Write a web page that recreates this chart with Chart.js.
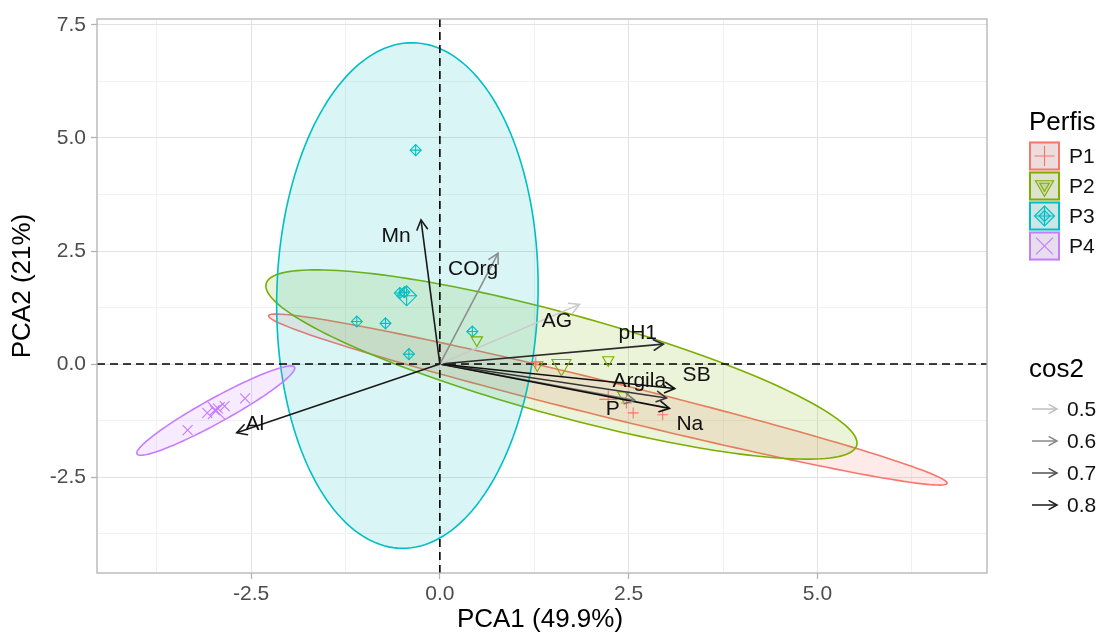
<!DOCTYPE html>
<html><head><meta charset="utf-8">
<script src="https://cdn.jsdelivr.net/npm/chart.js@4.4.1/dist/chart.umd.min.js"></script>
<style>html,body{margin:0;padding:0;background:#fff;} #wrap{width:1110px;height:636px;position:relative;}</style>
</head><body><div id="wrap"><canvas id="c" width="1110" height="636"></canvas></div>
<script>
// ---------- data ----------
const groupNames = ['P1', 'P2', 'P3', 'P4'];
const groupColors = ['#F8766D', '#7CAE00', '#00BFC4', '#C77CFF'];
const p1X = [1.27, 2.47, 2.56, 2.95];
const p1Y = [0.03, -0.86, -1.08, -1.12];
const p2X = [0.49, 1.29, 2.23, 2.43];
const p2Y = [0.53, -0.02, 0.09, -0.69];
const p3X = [-0.32, -1.10, -0.72, 0.43, -0.41, -0.53, -0.47];
const p3Y = [4.73, 0.94, 0.90, 0.72, 0.22, 1.57, 1.59];
const p4X = [-3.34, -3.08, -2.98, -2.94, -2.85, -2.58];
const p4Y = [-1.46, -1.08, -1.02, -0.98, -0.93, -0.76];
const centroidX = [2.23, 1.61, -0.44, -2.96];
const centroidY = [-0.78, -0.02, 1.51, -1.03];
const ellipseCx = [2.225, 1.61, -0.43, -2.967];
const ellipseCy = [-0.785, -0.01, 1.515, -1.029];
const ellipseA = [4.86, 4.31, 5.59, 1.42];
const ellipseB = [0.37, 1.06, 1.73, 0.228];
const ellipseAngle = [-22.5, -25.6, 89.3, 43.3];
const varNames = ['Mn', 'COrg', 'AG', 'pH1', 'SB', 'Argila', 'Na', 'P', 'Al'];
const varX = [-0.25, 0.77, 1.85, 2.96, 3.11, 3.00, 3.04, 2.58, -2.69];
const varY = [3.19, 2.45, 1.32, 0.44, -0.54, -0.75, -0.98, -0.80, -1.52];
const varCos2 = [0.80, 0.59, 0.48, 0.77, 0.82, 0.75, 0.82, 0.63, 0.80];
const varLabelX = [-0.58, 0.44, 1.55, 2.62, 3.40, 2.64, 3.31, 2.29, -2.45];
const varLabelY = [2.83, 2.10, 0.95, 0.69, -0.24, -0.38, -1.33, -1.00, -1.33];
const xTicks = [-2.5, 0, 2.5, 5];
const xTickLabels = ['-2.5', '0.0', '2.5', '5.0'];
const yTicks = [-2.5, 0, 2.5, 5, 7.5];
const yTickLabels = ['-2.5', '0.0', '2.5', '5.0', '7.5'];
const xMinor = [-3.75, -1.25, 1.25, 3.75, 6.25];
const yMinor = [-3.75, -1.25, 1.25, 3.75, 6.25];
const cos2Breaks = [0.5, 0.6, 0.7, 0.8];
const xTitle = 'PCA1 (49.9%)';
const yTitle = 'PCA2 (21%)';
const legendTitle1 = 'Perfis';
const legendTitle2 = 'cos2';

// ---------- styles ----------
const FONT = "'Liberation Sans', Arial, sans-serif";
function cos2Color(c) {
  const g = Math.max(0, Math.min(235, Math.round(191 - 550 * (c - 0.5))));
  return `rgb(${g},${g},${g})`;
}
function hexA(hex, a) {
  const n = parseInt(hex.slice(1), 16);
  return `rgba(${(n >> 16) & 255},${(n >> 8) & 255},${n & 255},${a})`;
}
const pts = (xs, ys) => xs.map((x, i) => ({ x, y: ys[i] }));

const datasets = [];
varNames.forEach((n, i) => {
  datasets.push({
    label: n, data: [{ x: 0, y: 0 }, { x: varX[i], y: varY[i] }],
    showLine: true, borderColor: cos2Color(varCos2[i]), borderWidth: 1.6,
    pointRadius: 0, pointHoverRadius: 0, order: 1
  });
});
function ptSet(label, data, style, r, color, extra) {
  return Object.assign({
    label, data, pointStyle: style, pointRadius: r, pointHoverRadius: r,
    borderColor: color, backgroundColor: 'rgba(0,0,0,0)', pointBorderWidth: 1.1,
    borderWidth: 1.1, showLine: false, order: 5
  }, extra || {});
}
datasets.push(ptSet('P1', pts(p1X, p1Y), 'cross', 5.5, groupColors[0]));
datasets.push(ptSet('P1c', [{ x: centroidX[0], y: centroidY[0] }], 'cross', 9, groupColors[0]));
datasets.push(ptSet('P2', pts(p2X, p2Y), 'triangle', 6.5, groupColors[1], { rotation: 180 }));
datasets.push(ptSet('P2c', [{ x: centroidX[1], y: centroidY[1] }], 'triangle', 11, groupColors[1], { rotation: 180 }));
datasets.push(ptSet('P3', pts(p3X, p3Y), 'rectRot', 5.5, groupColors[2]));
datasets.push(ptSet('P3x', pts(p3X, p3Y), 'cross', 5.5, groupColors[2]));
datasets.push(ptSet('P3c', [{ x: centroidX[2], y: centroidY[2] }], 'rectRot', 10, groupColors[2]));
datasets.push(ptSet('P3cx', [{ x: centroidX[2], y: centroidY[2] }], 'cross', 10, groupColors[2]));
datasets.push(ptSet('P4', pts(p4X, p4Y), 'crossRot', 7, groupColors[3]));
datasets.push(ptSet('P4c', [{ x: centroidX[3], y: centroidY[3] }], 'crossRot', 12, groupColors[3]));

function drawArrowHead(ctx, x0, y0, x1, y1, len, color, w) {
  const a = Math.atan2(y1 - y0, x1 - x0), s = 0.5;
  ctx.save();
  ctx.strokeStyle = color; ctx.lineWidth = w; ctx.lineCap = 'round';
  ctx.beginPath();
  ctx.moveTo(x1 - len * Math.cos(a - s), y1 - len * Math.sin(a - s));
  ctx.lineTo(x1, y1);
  ctx.lineTo(x1 - len * Math.cos(a + s), y1 - len * Math.sin(a + s));
  ctx.stroke();
  ctx.restore();
}

const plotPlugin = {
  id: 'plotExtras',
  beforeDatasetsDraw(chart) {
    const ctx = chart.ctx, ca = chart.chartArea, xs = chart.scales.x, ys = chart.scales.y;
    ctx.save();
    ctx.beginPath(); ctx.rect(ca.left, ca.top, ca.width, ca.height); ctx.clip();
    for (let g = 0; g < groupNames.length; g++) {
      const th = ellipseAngle[g] * Math.PI / 180;
      ctx.beginPath();
      for (let k = 0; k <= 180; k++) {
        const t = k / 180 * 2 * Math.PI;
        const u = ellipseA[g] * Math.cos(t), v = ellipseB[g] * Math.sin(t);
        const dx = ellipseCx[g] + u * Math.cos(th) - v * Math.sin(th);
        const dy = ellipseCy[g] + u * Math.sin(th) + v * Math.cos(th);
        const X = xs.getPixelForValue(dx), Y = ys.getPixelForValue(dy);
        if (k === 0) ctx.moveTo(X, Y); else ctx.lineTo(X, Y);
      }
      ctx.closePath();
      ctx.fillStyle = hexA(groupColors[g], 0.15);
      ctx.fill();
      ctx.strokeStyle = groupColors[g]; ctx.lineWidth = 1.6;
      ctx.stroke();
    }
    ctx.setLineDash([8, 5]);
    ctx.strokeStyle = '#000'; ctx.lineWidth = 1.6;
    const x0 = xs.getPixelForValue(0), y0 = ys.getPixelForValue(0);
    ctx.beginPath(); ctx.moveTo(x0, ca.top); ctx.lineTo(x0, ca.bottom); ctx.stroke();
    ctx.beginPath(); ctx.moveTo(ca.left, y0); ctx.lineTo(ca.right, y0); ctx.stroke();
    ctx.restore();
  },
  afterDatasetsDraw(chart) {
    const ctx = chart.ctx, ca = chart.chartArea, xs = chart.scales.x, ys = chart.scales.y;
    const ox = xs.getPixelForValue(0), oy = ys.getPixelForValue(0);
    varNames.forEach((n, i) => {
      drawArrowHead(ctx, ox, oy, xs.getPixelForValue(varX[i]), ys.getPixelForValue(varY[i]), 11, cos2Color(varCos2[i]), 1.6);
    });
    ctx.save();
    ctx.font = `21px ${FONT}`; ctx.fillStyle = '#111'; ctx.textAlign = 'center'; ctx.textBaseline = 'middle';
    varNames.forEach((n, i) => {
      ctx.fillText(n, xs.getPixelForValue(varLabelX[i]), ys.getPixelForValue(varLabelY[i]));
    });
    ctx.restore();
    ctx.save();
    ctx.strokeStyle = '#b3b3b3'; ctx.lineWidth = 1.3;
    ctx.strokeRect(ca.left, ca.top, ca.width, ca.height);
    ctx.restore();
  },
  afterDraw(chart) {
    const ctx = chart.ctx, ca = chart.chartArea;
    ctx.save();
    ctx.fillStyle = '#000'; ctx.font = `26px ${FONT}`; ctx.textAlign = 'center'; ctx.textBaseline = 'middle';
    ctx.fillText(xTitle, (ca.left + ca.right) / 2 - 2, 620);
    ctx.save(); ctx.translate(23, 286); ctx.rotate(-Math.PI / 2);
    ctx.fillText(yTitle, 0, 0); ctx.restore();
    const lx = 1029;
    ctx.textAlign = 'left';
    ctx.fillStyle = '#000'; ctx.font = `26px ${FONT}`;
    ctx.fillText(legendTitle1, lx, 123);
    ctx.font = `21px ${FONT}`;
    groupNames.forEach((g, i) => {
      const cyc = 156 + i * 30, h = 29, w = 31, top = cyc - h / 2;
      ctx.fillStyle = '#ebebeb'; ctx.fillRect(lx, top, w, h);
      ctx.fillStyle = hexA(groupColors[i], 0.12); ctx.fillRect(lx, top, w, h);
      ctx.strokeStyle = groupColors[i]; ctx.lineWidth = 2; ctx.strokeRect(lx + 1, top + 1, w - 2, h - 2);
      const cx = lx + w / 2, cy = cyc;
      ctx.lineWidth = 1.1;
      if (i === 0) Chart.helpers.drawPoint(ctx, { pointStyle: 'cross', radius: 10, borderWidth: 1.1, rotation: 0 }, cx, cy);
      if (i === 1) {
        Chart.helpers.drawPoint(ctx, { pointStyle: 'triangle', radius: 10.5, borderWidth: 1.1, rotation: 180 }, cx, cy);
        Chart.helpers.drawPoint(ctx, { pointStyle: 'triangle', radius: 5.5, borderWidth: 1.1, rotation: 180 }, cx, cy);
      }
      if (i === 2) {
        Chart.helpers.drawPoint(ctx, { pointStyle: 'rectRot', radius: 10, borderWidth: 1.1, rotation: 0 }, cx, cy);
        Chart.helpers.drawPoint(ctx, { pointStyle: 'rectRot', radius: 5.5, borderWidth: 1.1, rotation: 0 }, cx, cy);
        Chart.helpers.drawPoint(ctx, { pointStyle: 'cross', radius: 10, borderWidth: 1.1, rotation: 0 }, cx, cy);
      }
      if (i === 3) Chart.helpers.drawPoint(ctx, { pointStyle: 'crossRot', radius: 12, borderWidth: 1.1, rotation: 0 }, cx, cy);
      ctx.fillStyle = '#111';
      ctx.fillText(g, lx + 40, cy + 1);
    });
    ctx.fillStyle = '#000'; ctx.font = `26px ${FONT}`;
    ctx.fillText(legendTitle2, lx, 370);
    ctx.font = `21px ${FONT}`;
    cos2Breaks.forEach((b, i) => {
      const y = 409 + i * 32;
      const col = cos2Color(b);
      ctx.strokeStyle = col; ctx.lineWidth = 1.5;
      ctx.beginPath(); ctx.moveTo(lx + 3, y); ctx.lineTo(lx + 28, y); ctx.stroke();
      drawArrowHead(ctx, lx + 3, y, lx + 28, y, 9, col, 1.5);
      ctx.fillStyle = '#111';
      ctx.fillText(b.toFixed(1), lx + 38, y + 1);
    });
    ctx.restore();
  }
};

const allX = [...xMinor, ...xTicks].sort((a, b) => a - b);
const allY = [...yMinor, ...yTicks].sort((a, b) => a - b);
const isMajor = (arr, v) => arr.some(t => Math.abs(t - v) < 1e-9);

new Chart(document.getElementById('c'), {
  type: 'scatter',
  data: { datasets },
  options: {
    responsive: false, animation: false, events: [],
    layout: { padding: { left: 0, top: 19, right: 123, bottom: 0 } },
    plugins: { legend: { display: false }, tooltip: { enabled: false } },
    scales: {
      x: {
        type: 'linear', min: -4.54, max: 7.245,
        afterBuildTicks: s => { s.ticks = allX.map(v => ({ value: v })); },
        afterFit: s => { s.height = 63; },
        border: { display: false },
        grid: {
          color: c => isMajor(xTicks, c.tick.value) ? '#e2e2e2' : '#f1f1f1',
          tickColor: c => isMajor(xTicks, c.tick.value) ? '#b3b3b3' : 'rgba(0,0,0,0)',
          lineWidth: 1, tickLength: 6, tickWidth: 1.3
        },
        ticks: {
          autoSkip: false, maxRotation: 0, padding: 3, color: '#4d4d4d',
          font: { family: FONT, size: 21 },
          callback: v => { const k = xTicks.findIndex(t => Math.abs(t - v) < 1e-9); return k >= 0 ? xTickLabels[k] : ''; }
        }
      },
      y: {
        type: 'linear', min: -4.62, max: 7.63,
        afterBuildTicks: s => { s.ticks = allY.map(v => ({ value: v })); },
        afterFit: s => { s.width = 97; },
        border: { display: false },
        grid: {
          color: c => isMajor(yTicks, c.tick.value) ? '#e2e2e2' : '#f1f1f1',
          tickColor: c => isMajor(yTicks, c.tick.value) ? '#b3b3b3' : 'rgba(0,0,0,0)',
          lineWidth: 1, tickLength: 6, tickWidth: 1.3
        },
        ticks: {
          autoSkip: false, padding: 5, color: '#4d4d4d',
          font: { family: FONT, size: 21 },
          callback: v => { const k = yTicks.findIndex(t => Math.abs(t - v) < 1e-9); return k >= 0 ? yTickLabels[k] : ''; }
        }
      }
    }
  },
  plugins: [plotPlugin]
});
</script>
</body></html>
